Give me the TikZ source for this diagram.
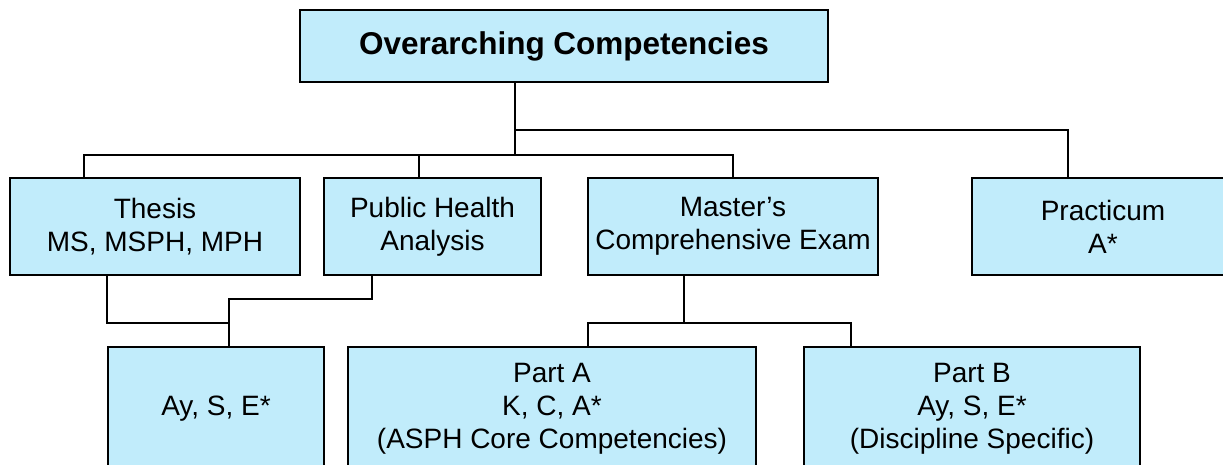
\documentclass[tikz,border=0pt]{standalone}
\usepackage{fontspec}
\setmainfont{Liberation Sans}
\usepackage{tikz}

\definecolor{boxcyan}{RGB}{193,236,251}

\begin{document}
\begin{tikzpicture}[
    x=1pt, y=-1pt,
    comp box/.style={draw=black, fill=boxcyan, line width=1.6pt, align=center,
      inner sep=0pt, font=\fontsize{28}{33}\selectfont},
    link/.style={draw=black, line width=1.6pt},
    ]
  \useasboundingbox (0,0) rectangle (1223,464);
  \clip (0,0) rectangle (1223,464);

  \node[comp box, minimum width=528, minimum height=72,
    font=\fontsize{31.5}{33}\selectfont\bfseries] (top) at (564,46) {Overarching Competencies};

  \node[comp box, minimum width=290, minimum height=97] (thesis) at (155,226.5) {Thesis\\MS, MSPH, MPH};
  \node[comp box, minimum width=217, minimum height=97] (pha) at (432.5,226.5) {Public Health\\Analysis};
  \node[comp box, minimum width=290, minimum height=97] (mce) at (733,226.5) {Master’s\\Comprehensive Exam};
  \node[comp box, minimum width=262, minimum height=97] (prac) at (1103,226.5) {Practicum\\A*};

  \node[comp box, minimum width=216, minimum height=124] (ay) at (216,409) {Ay, S, E*};
  \node[comp box, minimum width=408, minimum height=124] (parta) at (552,409) {Part A\\K, C, A*\\(ASPH Core Competencies)};
  \node[comp box, minimum width=336, minimum height=124] (partb) at (972,409) {Part B\\Ay, S, E*\\(Discipline Specific)};

  \coordinate (j1) at (515,155);
  \coordinate (j2) at (515,130);
  \coordinate (j3) at (229,323);
  \coordinate (j4) at (229,299);
  \coordinate (j5) at (684,323);

  % upper level
  \draw[link] (top.south -| j1) -- (j1);
  \draw[link] ([xshift=-71]thesis.north) |- (mce.north |- j1) -- (mce.north);
  \draw[link] ([xshift=-13.5]pha.north) -- ([xshift=-13.5]pha.north |- j1);
  \draw[link] (j2) -| ([xshift=-35]prac.north);

  % lower level
  \draw[link] ([xshift=-48]thesis.south) |- (j3);
  \draw[link] ([xshift=-60.5]pha.south) |- (j4) -- (j4 |- ay.north);
  \draw[link] ([xshift=-49]mce.south) -- (j5);
  \draw[link] ([xshift=36]parta.north) |- ([xshift=-121]partb.north |- j5) -- ([xshift=-121]partb.north);
\end{tikzpicture}
\end{document}
